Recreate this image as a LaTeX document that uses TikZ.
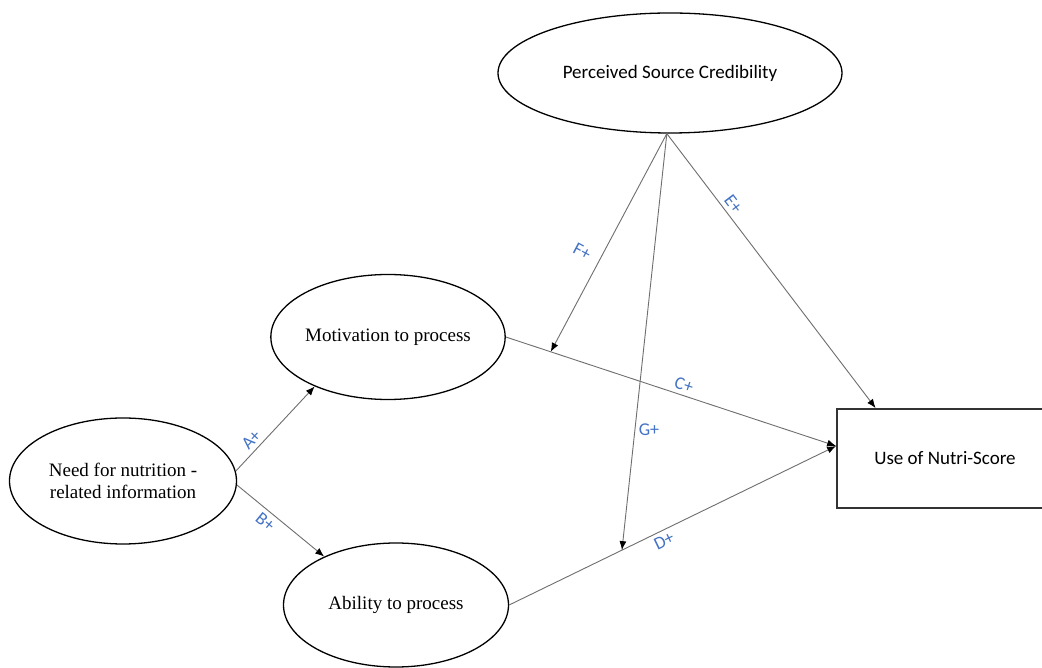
\documentclass[tikz,border=0pt]{standalone}
\usepackage{fontspec}
\setmainfont{Liberation Serif}
\newfontfamily\calibrifont{Carlito}
\usepackage{tikz}
\usetikzlibrary{arrows.meta}
\usetikzlibrary{shapes.geometric}

\definecolor{pathblue}{HTML}{4472C4}
\definecolor{linegray}{HTML}{6E6E6E}

\tikzset{
  construct/.style={ellipse, draw=black, line width=1.3pt, inner sep=0pt, align=center,
    font=\fontsize{19}{22}\selectfont},
  outcome/.style={rectangle, draw=black!80, line width=1.8pt, inner sep=0pt,
    minimum width=216pt, minimum height=99pt, font=\calibrifont\fontsize{19}{22}\selectfont},
  path arrow/.style={draw=linegray, line width=0.9pt, -{Latex[length=9pt,width=7pt,color=black]}},
  hyp/.style={text=pathblue, inner sep=4pt, font=\calibrifont\fontsize{18}{20}\selectfont},
}

\begin{document}
\begin{tikzpicture}[x=1pt, y=1pt]
      \clip (0,0) rectangle (1042,667);
      \fill[white] (0,0) rectangle (1042,667);

      \node [construct, minimum width=344pt, minimum height=120pt,
        font=\calibrifont\fontsize{19}{22}\selectfont] (cred) at (670,594) {Perceived Source Credibility};
      \node [construct, minimum width=226pt, minimum height=125pt] (motiv) at (388,330) {Motivation to process};
      \node [construct, minimum width=227pt, minimum height=126pt] (need) at (123,186) {Need for nutrition -\\related information};
      \node [construct, minimum width=225pt, minimum height=124pt] (abil) at (396,62) {Ability to process};
      \node [outcome] (use) at (945,208.5) {Use of Nutri-Score};

      \coordinate (usein) at ([yshift=12.5pt]use.west);

      \draw [path arrow] (need.5) -- node [hyp, sloped, above, pos=0.29] {A+} (motiv.214);
      \draw [path arrow] (need.-2) -- node [hyp, sloped, below, pos=0.40] {B+} (abil.146);
      \draw [path arrow] (motiv.east) -- coordinate [pos=0.136] (fhit)
        node [hyp, sloped, above, pos=0.53] {C+} (usein);
      \draw [path arrow] (abil.east) -- coordinate [pos=0.345] (ghit)
        node [hyp, sloped, below, pos=0.46] {D+} (usein);

      \draw [path arrow] (cred.-93) -- node [hyp, sloped, above, pos=0.28] {E+} (use.144);
      \draw [path arrow] (cred.-93) -- node [hyp, pos=0.54, xshift=-22pt, rotate=-28] {F+} (fhit);
      \draw [path arrow] (cred.-93) -- node [hyp, pos=0.71, xshift=14pt] {G+} (ghit);
    \end{tikzpicture}
\end{document}
